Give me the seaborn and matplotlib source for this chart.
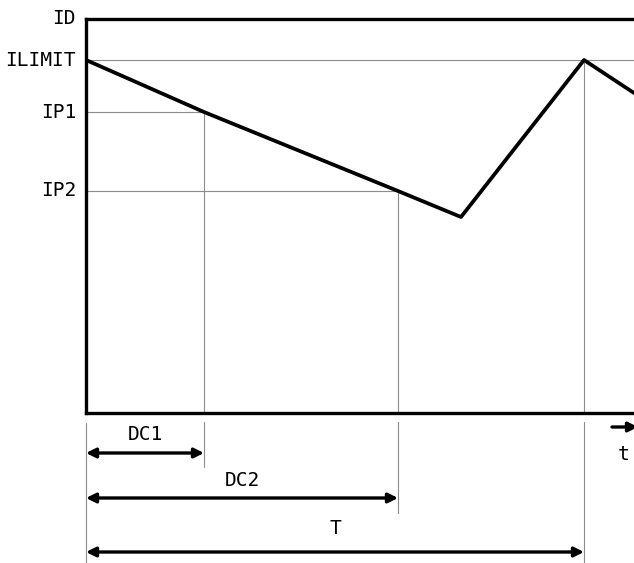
import matplotlib
matplotlib.use("Agg")
import matplotlib.pyplot as plt
import seaborn as sns

# waveform of the drain current (schematic units)
t_wave = [0, 118, 312, 375, 498, 548]
i_wave = [353, 301, 222, 196, 353, 320]

# current levels marked on the left
level_names = ["ILIMIT", "IP1", "IP2"]
level_values = [353, 301, 222]
level_ends = [548, 118, 312]

# time spans shown under the plot
span_names = ["DC1", "DC2", "T"]
span_ends = [118, 312, 498]
span_tops = [301, 222, 353]

sns.set_style("white")
plt.rcParams['font.family'] = ['DejaVu Sans Mono', 'DejaVu Sans']
plt.rcParams['text.color'] = 'black'

fig = plt.figure(figsize=(6.34, 5.63), dpi=100)
ax = fig.add_axes([86 / 634, 150 / 563, 548 / 634, 394 / 563])
ax.set_xlim(0, 548)
ax.set_ylim(0, 394)

grid_kw = dict(color="#8c8c8c", lw=0.8, zorder=1)
txt_kw = dict(fontsize=14, color="black", clip_on=False)

# helper lines inside the box
for name, val, end in zip(level_names, level_values, level_ends):
    ax.plot([0, end], [val, val], **grid_kw)
    ax.text(-10, val, name, ha="right", va="center", **txt_kw)
for end, top in zip(span_ends, span_tops):
    ax.plot([end, end], [0, top], **grid_kw)

ax.text(-10, 394, "ID", ha="right", va="center", **txt_kw)

sns.lineplot(x=t_wave, y=i_wave, color="black", lw=2.7, ax=ax, zorder=3)

# dimension arrows below the box
arrow_y = [-40, -85, -139]
label_y = [-22, -68, -115]
ext_bottom = [-54, -100, -150]
ax.plot([0, 0], [-10, -150], clip_on=False, **grid_kw)
for name, end, ay, ly, eb in zip(span_names, span_ends, arrow_y, label_y, ext_bottom):
    ax.plot([end, end], [-9, eb], clip_on=False, **grid_kw)
    ax.annotate("", xy=(end, ay), xytext=(0, ay), annotation_clip=False,
                arrowprops=dict(arrowstyle="<|-|>", color="black", lw=2.4,
                                mutation_scale=14, shrinkA=0, shrinkB=0))
    ax.text(end / 2, ly, name, ha="center", va="center", **txt_kw)

# time axis hint at the right edge
ax.annotate("", xy=(552, -14), xytext=(526, -14), annotation_clip=False,
            arrowprops=dict(arrowstyle="-|>", color="black", lw=2.4,
                            mutation_scale=14, shrinkA=0, shrinkB=0))
ax.text(538, -42, "t", ha="center", va="center", **txt_kw)

ax.set_xticks([])
ax.set_yticks([])
for side in ["left", "top", "bottom"]:
    ax.spines[side].set_linewidth(2.4)
    ax.spines[side].set_color("black")
ax.spines["right"].set_visible(False)

fig.savefig("out.png", dpi=100)
